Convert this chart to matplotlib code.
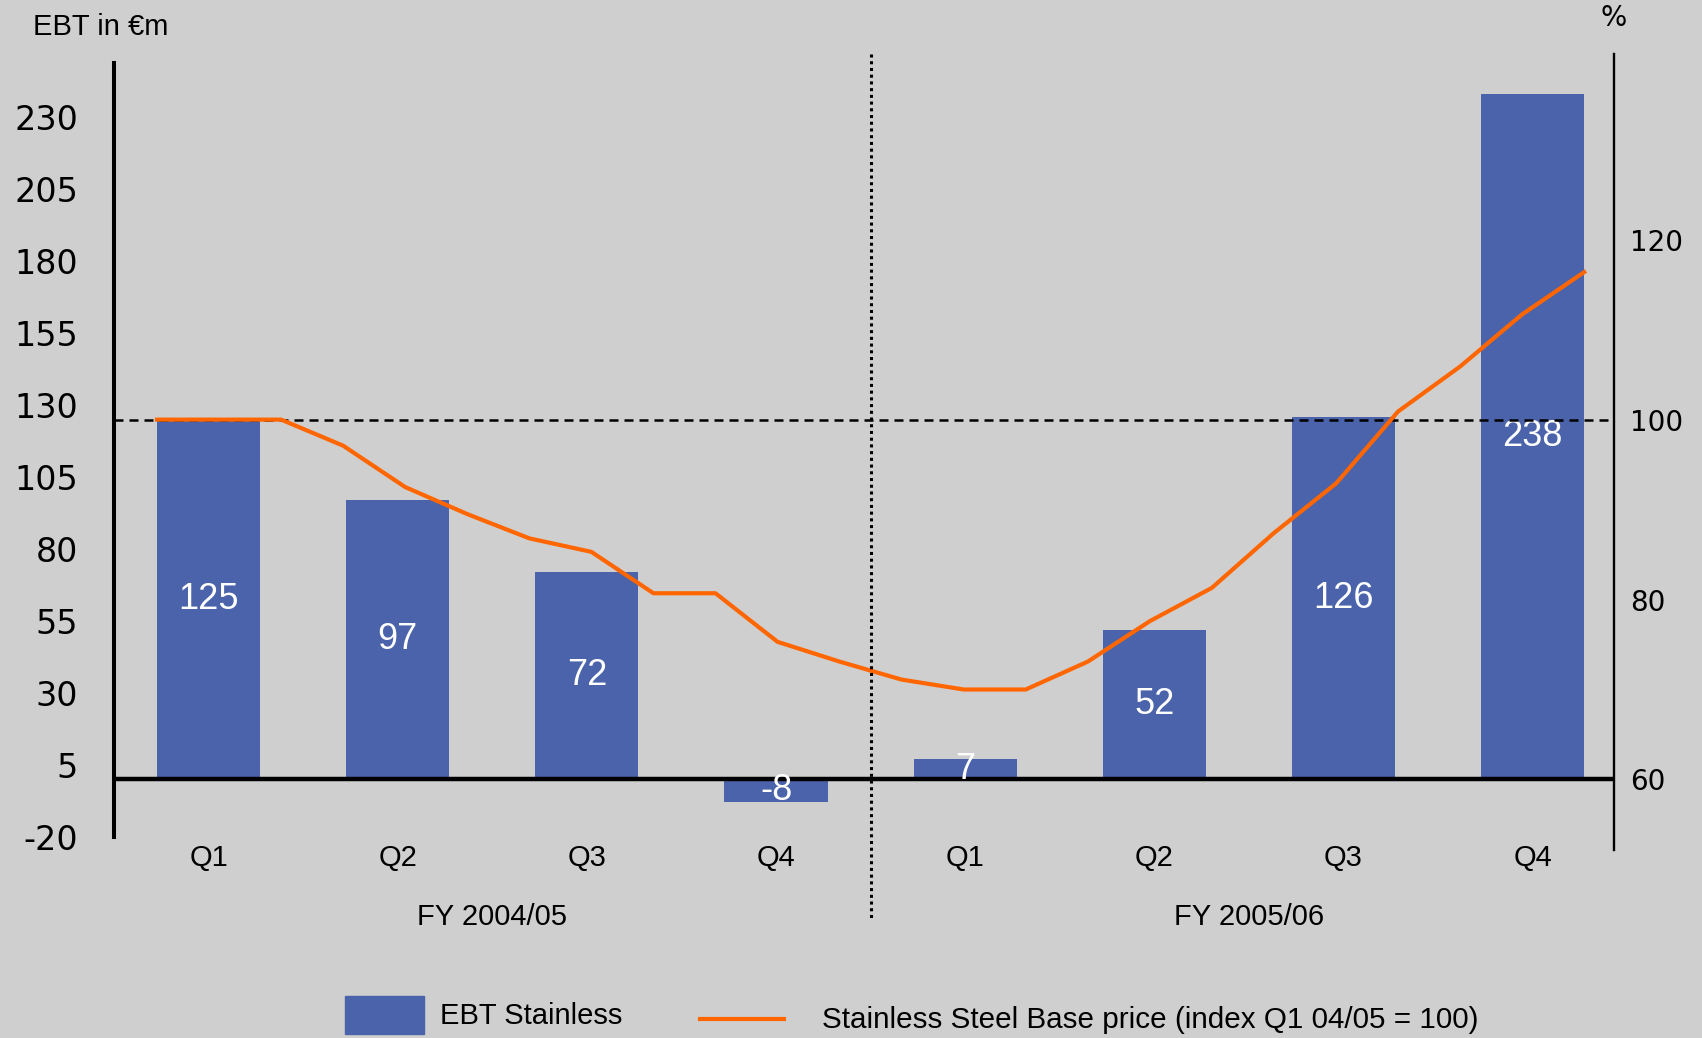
import numpy as np
import matplotlib
matplotlib.use('Agg')
import matplotlib.pyplot as plt
from matplotlib.patches import Rectangle
from matplotlib.lines import Line2D

plt.rcParams['axes.unicode_minus'] = False

# quarterly EBT of the stainless division and the monthly base price index
quarters = ['Q1', 'Q2', 'Q3', 'Q4', 'Q1', 'Q2', 'Q3', 'Q4']
years = ['FY 2004/05', 'FY 2005/06']
ebt = [125, 97, 72, -8, 7, 52, 126, 238]
price_index = [100, 100, 100, 97.1, 92.5, 89.5, 86.8, 85.3, 80.7, 80.7, 75.3, 73.1,
               71.1, 70.0, 70.0, 73.1, 77.6, 81.3, 87.4, 92.9, 100.9, 105.9, 111.7, 116.4]
ebt_ticks = [-20, 5, 30, 55, 80, 105, 130, 155, 180, 205, 230]
index_ticks = [60, 80, 100, 120]

bg = '#cfcfcf'
blue = '#4a63ab'
orange = '#ff6600'
W, H = 1702, 1038
txt = 'Liberation Sans'

fig = plt.figure(figsize=(W / 100, H / 100), dpi=100, facecolor=bg)
ax = fig.add_axes([114 / W, 188 / H, 1500 / W, 796 / H])
ax.set_facecolor(bg)

x = np.arange(len(ebt))
bw = 0.545
ax.bar(x, ebt, width=bw, color=blue, zorder=2)
ax.axhline(0, color='black', lw=3.2, zorder=3)
for xi, v in zip(x, ebt):
    ax.text(xi, v / 2, str(v), color='white', ha='center', va='center',
            fontsize=26, family=txt, zorder=4)

ax.set_xlim(-0.5, 7.43)
ax.set_ylim(-24.5, 252)
for s in ['top', 'bottom', 'right']:
    ax.spines[s].set_visible(False)
ax.spines['left'].set_bounds(-20, 249)
ax.spines['left'].set_linewidth(2.9)
ax.set_yticks(ebt_ticks)
ax.tick_params(axis='y', length=0, pad=26, labelsize=24)
ax.set_xticks(x, quarters)
ax.tick_params(axis='x', length=0, pad=-4)
for lab in ax.get_xticklabels():
    lab.set_fontsize(21)
    lab.set_family(txt)

ax.text(1.5, -47.8, years[0], ha='center', va='center', fontsize=21, family=txt, clip_on=False)
ax.text(5.5, -47.8, years[1], ha='center', va='center', fontsize=21, family=txt, clip_on=False)

# index axis: 60 sits on the EBT zero line, 100 level with Q1 04/05 EBT
ax2 = ax.twinx()
lo, hi = ax.get_ylim()
ax2.set_ylim(60 + lo * 40 / 125, 60 + hi * 40 / 125)
for s in ['top', 'bottom', 'left']:
    ax2.spines[s].set_visible(False)
ax2.spines['right'].set_linewidth(1.7)
ax2.set_yticks(index_ticks)
ax2.tick_params(axis='y', length=0, pad=11.5, labelsize=20)

months = np.linspace(-bw / 2, x[-1] + bw / 2, len(price_index))
ax2.plot(months, price_index, color=orange, lw=3.0, zorder=3)
ax2.axhline(100, color='black', lw=1.8, ls=(0, (3.6, 2.4)), zorder=2)
ax2.plot([3.5, 3.5], [1.0, -0.088], transform=ax2.get_xaxis_transform(),
         color='black', lw=2.2, ls=(0, (1, 1.2)), clip_on=False, zorder=5)

fig.text(33 / W, 1 - 27 / H, 'EBT in €m', ha='left', va='center', fontsize=21, family=txt)
fig.text(1614 / W, 1 - 18 / H, '%', ha='center', va='center', fontsize=20)

# legend along the bottom edge
fig.patches.append(Rectangle((345 / W, 1 - 1034 / H), 79 / W, 38 / H,
                             transform=fig.transFigure, color=blue))
fig.text(440 / W, 1 - 1016 / H, 'EBT Stainless', va='center', fontsize=21, family=txt)
fig.lines.append(Line2D([700 / W, 784 / W], [1 - 1019 / H] * 2,
                        transform=fig.transFigure, color=orange, lw=3))
fig.text(822 / W, 1 - 1020 / H, 'Stainless Steel Base price (index Q1 04/05 = 100)',
         va='center', fontsize=21.3, family=txt)

fig.savefig('out.png', dpi=100, facecolor=bg)
